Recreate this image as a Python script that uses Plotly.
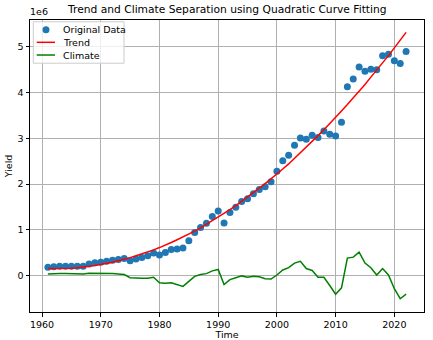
import plotly.graph_objects as go

years = list(range(1961, 2023))

# Original yield data (in units of 1e6)
original = [0.18, 0.19, 0.20, 0.20, 0.20, 0.20, 0.20, 0.25, 0.28, 0.29,
            0.31, 0.33, 0.35, 0.37, 0.32, 0.36, 0.39, 0.43, 0.49, 0.45,
            0.50, 0.57, 0.58, 0.60, 0.76, 0.94, 1.05, 1.14, 1.29, 1.41,
            1.15, 1.38, 1.49, 1.62, 1.68, 1.79, 1.88, 1.94, 2.05, 2.28,
            2.51, 2.63, 2.85, 3.01, 2.98, 3.07, 3.02, 3.16, 3.09, 3.05,
            3.35, 4.13, 4.30, 4.56, 4.47, 4.51, 4.50, 4.81, 4.84, 4.70,
            4.64, 4.90]

# Quadratic trend curve (in units of 1e6)
trend = [0.15, 0.15, 0.15, 0.15, 0.16, 0.17, 0.18, 0.20, 0.22, 0.24,
         0.26, 0.29, 0.32, 0.35, 0.39, 0.43, 0.47, 0.51, 0.56, 0.61,
         0.66, 0.72, 0.78, 0.84, 0.91, 0.97, 1.04, 1.12, 1.19, 1.27,
         1.35, 1.44, 1.53, 1.62, 1.71, 1.81, 1.91, 2.01, 2.11, 2.22,
         2.33, 2.44, 2.56, 2.68, 2.80, 2.93, 3.06, 3.19, 3.32, 3.46,
         3.60, 3.74, 3.88, 4.03, 4.18, 4.34, 4.49, 4.65, 4.81, 4.98,
         5.15, 5.32]

# Climate component (in units of 1e6)
climate = [0.03, 0.04, 0.04, 0.04, 0.04, 0.03, 0.03, 0.05, 0.05, 0.04,
           0.04, 0.04, 0.03, 0.02, -0.05, -0.06, -0.06, -0.06, -0.04, -0.16,
           -0.17, -0.16, -0.20, -0.24, -0.13, -0.02, 0.02, 0.04, 0.10, 0.13,
           -0.20, -0.09, -0.05, -0.01, -0.04, -0.02, -0.03, -0.07, -0.08, 0.01,
           0.12, 0.17, 0.27, 0.31, 0.15, 0.11, -0.04, -0.04, -0.22, -0.41,
           -0.27, 0.38, 0.40, 0.51, 0.27, 0.17, 0.01, 0.15, 0.01, -0.29,
           -0.51, -0.41]

x_ticks = [1960, 1970, 1980, 1990, 2000, 2010, 2020]
y_ticks = [0, 1, 2, 3, 4, 5]

series_names = ["Original Data", "Trend", "Climate"]
series_colors = ["#1f77b4", "red", "green"]

FONT = "DejaVu Sans"

fig = go.Figure()
fig.add_trace(go.Scatter(x=years, y=original, mode="markers", name=series_names[0],
                         marker=dict(color=series_colors[0], size=7)))
fig.add_trace(go.Scatter(x=years, y=trend, mode="lines", name=series_names[1],
                         line=dict(color=series_colors[1], width=1.5)))
fig.add_trace(go.Scatter(x=years, y=climate, mode="lines", name=series_names[2],
                         line=dict(color=series_colors[2], width=1.5)))

axis_common = dict(showline=True, linecolor="black", linewidth=1, mirror=True,
                   ticks="outside", ticklen=3.5, tickcolor="black", tickwidth=1,
                   showgrid=True, gridcolor="#b0b0b0", gridwidth=1, zeroline=False,
                   automargin=False,
                   tickfont=dict(family=FONT, size=9.5, color="black"))

fig.update_layout(
    width=433, height=340,
    margin=dict(l=30, r=9, t=20, b=28),
    plot_bgcolor="white", paper_bgcolor="white",
    showlegend=False,
    title=dict(text="Trend and Climate Separation using Quadratic Curve Fitting",
               x=0.525, xanchor="center", y=0.972, yanchor="middle",
               font=dict(family=FONT, size=10.7, color="black")),
    xaxis=dict(range=[1957.95, 2025.05], tickvals=x_ticks,
               title=dict(text="Time", font=dict(family=FONT, size=9.5, color="black"), standoff=2),
               **axis_common),
    yaxis=dict(range=[-0.80, 5.59], tickvals=y_ticks,
               title=dict(text="Yield", font=dict(family=FONT, size=9.5, color="black"), standoff=3),
               **axis_common),
)

# Compact matplotlib-style legend (box, glyphs and labels in paper coordinates)
fig.add_shape(type="rect", xref="paper", yref="paper", x0=0.0084, x1=0.2386,
              y0=0.852, y1=0.994, line=dict(color="#cccccc", width=1),
              fillcolor="rgba(255,255,255,0.8)", layer="above")
fig.add_shape(type="circle", xref="paper", yref="paper", x0=0.0317, x1=0.0495,
              y0=0.9545, y1=0.9785, line=dict(color=series_colors[0], width=0),
              fillcolor=series_colors[0], layer="above")
legend_rows_y = [0.9665, 0.9236, 0.8801]
for i, ly in enumerate(legend_rows_y):
    if i > 0:
        fig.add_shape(type="line", xref="paper", yref="paper", x0=0.017, x1=0.0635,
                      y0=ly, y1=ly, line=dict(color=series_colors[i], width=1.5),
                      layer="above")
    fig.add_annotation(text=series_names[i], xref="paper", yref="paper", x=0.079, y=ly,
                       xanchor="left", yanchor="middle", showarrow=False,
                       font=dict(family=FONT, size=9.5, color="black"))

fig.add_annotation(text="1e6", xref="paper", yref="paper", x=-0.005, y=1.005,
                   xanchor="left", yanchor="bottom", showarrow=False,
                   font=dict(family=FONT, size=9.5, color="black"))

fig.write_html("out.html")
